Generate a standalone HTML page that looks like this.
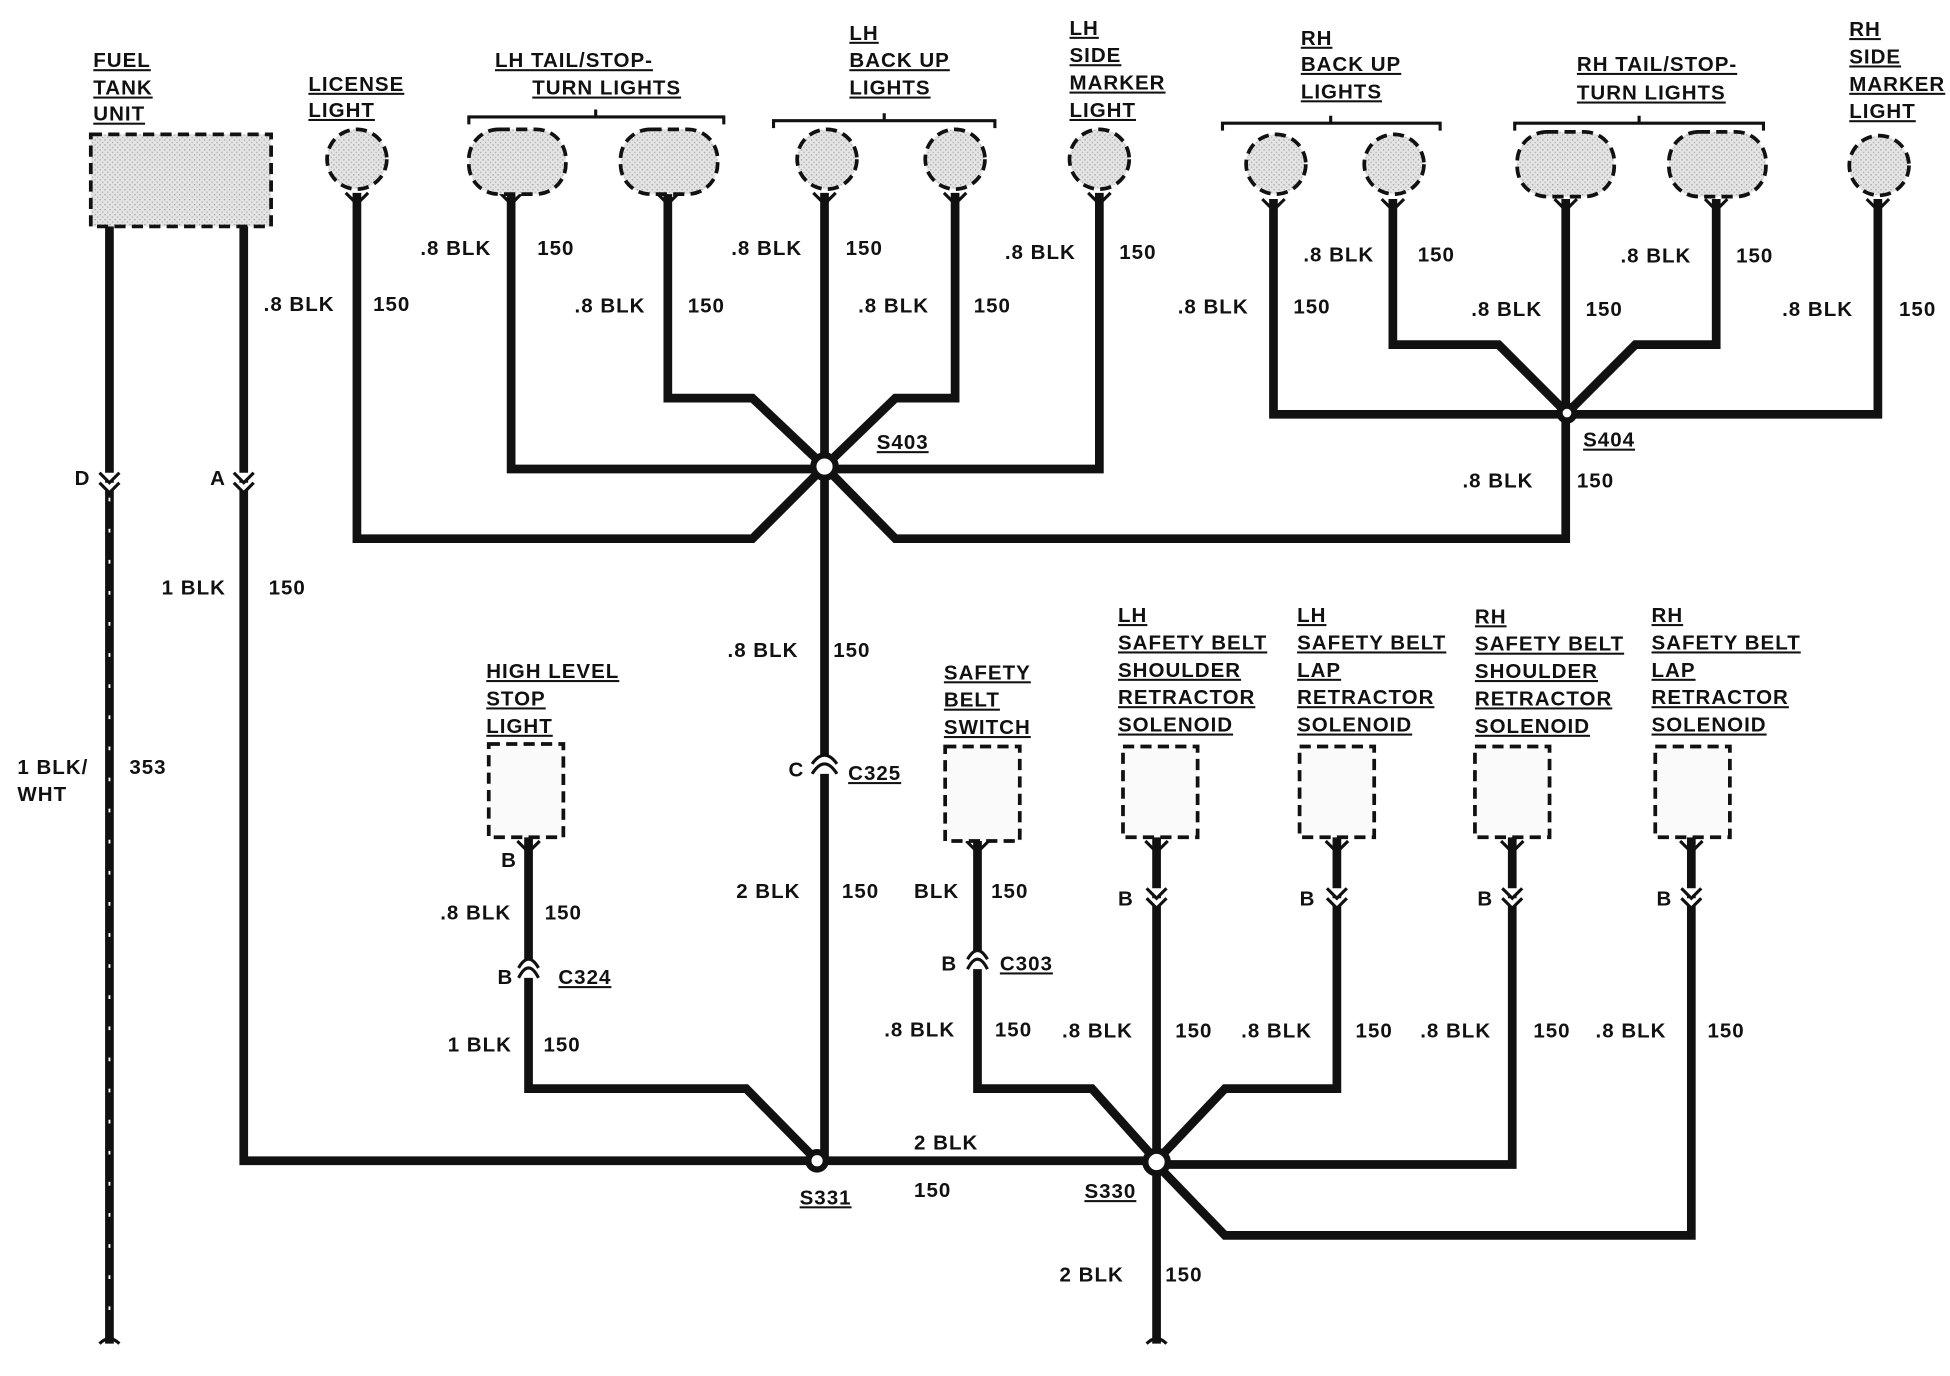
<!DOCTYPE html>
<html><head><meta charset="utf-8"><style>
html,body{margin:0;padding:0;background:#fff;}
svg{display:block;}
text{font-family:"Liberation Sans",Arial,sans-serif;font-weight:bold;font-size:16.5px;fill:#111;letter-spacing:0.8px;}
.u{text-decoration:underline;}
</style></head><body>
<svg width="1950" height="1376" viewBox="0 0 1568 1106" preserveAspectRatio="none" xmlns="http://www.w3.org/2000/svg">
<defs>
<pattern id="st" width="4" height="4" patternUnits="userSpaceOnUse"><rect width="4" height="4" fill="#e4e4e4"/><rect width="1" height="1" fill="#999"/><rect x="2" y="2" width="1" height="1" fill="#aaa"/></pattern>
</defs>
<g fill="none" stroke="#111" stroke-width="7" stroke-linejoin="miter">
<line x1="88" y1="182" x2="88" y2="1080"/>
<polyline points="196,182 196,933 930,933"/>
<polyline points="287,155 287,433 605,433 663,375"/>
<polyline points="411,155 411,377 884,377 884,155"/>
<polyline points="537,155 537,320 605,320 663,375 720,320 768,320 768,155"/>
<polyline points="663,155 663,933"/>
<polyline points="663,375 720,433 1259,433 1259,332"/>
<polyline points="1024,160 1024,333 1510,333 1510,160"/>
<polyline points="1120,160 1120,277 1205,277 1260,332 1315,277 1380,277 1380,160"/>
<line x1="1259" y1="160" x2="1259" y2="332"/>
<polyline points="425,673 425,875 600,875 657,933"/>
<polyline points="786,676 786,875 878,875 930,933 985,875 1075,875 1075,673"/>
<polyline points="930,673 930,1080"/>
<polyline points="1216,673 1216,936 930,936"/>
<polyline points="1360,673 1360,993 985,993 930,936"/>
</g>
<line x1="88" y1="400" x2="88" y2="1075" stroke="#fff" stroke-width="1.5" stroke-dasharray="3,22"/>
<g fill="#fff" stroke="#111" stroke-width="2.5">
<path d="M80,380 L88,388 L96,380 M80,388 L88,396 L96,388"/>
<path d="M188,380 L196,388 L204,380 M188,388 L196,396 L204,388"/>
<path d="M653,622 Q663,606 673,622 M653,614 Q663,600 673,614"/>
<path d="M417,786 Q425,770 433,786 M417,778 Q425,764 433,778"/>
<path d="M778,779 Q786,763 794,779 M778,771 Q786,757 794,771"/>
<path d="M922,714 L930,722 L938,714 M922,722 L930,730 L938,722"/>
<path d="M1067,714 L1075,722 L1083,714 M1067,722 L1075,730 L1083,722"/>
<path d="M1208,714 L1216,722 L1224,714 M1208,722 L1216,730 L1224,722"/>
<path d="M1352,714 L1360,722 L1368,714 M1352,722 L1360,730 L1368,722"/>
<path d="M80,1080 Q88,1072 96,1080 M922,1080 Q930,1072 938,1080" fill="none"/>
<path d="M278,155 L287,164 L296,155 M402,155 L411,164 L420,155 M528,155 L537,164 L546,155 M654,155 L663,164 L672,155 M759,155 L768,164 L777,155 M875,155 L884,164 L893,155 M1015,160 L1024,169 L1033,160 M1111,160 L1120,169 L1129,160 M1250,160 L1259,169 L1268,160 M1371,160 L1380,169 L1389,160 M1501,160 L1510,169 L1519,160 M416,676 L425,685 L434,676 M777,676 L786,685 L795,676 M921,676 L930,685 L939,676 M1066,676 L1075,685 L1084,676 M1207,676 L1216,685 L1225,676 M1351,676 L1360,685 L1369,676" fill="none"/>
</g>
<g fill="#fff" stroke="#111" stroke-width="5">
<circle cx="663" cy="375" r="9"/>
<circle cx="1260" cy="332" r="6"/>
<circle cx="657" cy="933" r="7"/>
<circle cx="930" cy="934" r="9"/>
</g>
<g stroke="#111" stroke-width="3" stroke-dasharray="9,5" fill="url(#st)">
<rect x="73" y="108" width="145" height="74"/>
<circle cx="287" cy="128" r="24"/>
<rect x="377" y="104" width="78" height="52" rx="24"/>
<rect x="499" y="104" width="78" height="52" rx="24"/>
<circle cx="665" cy="128" r="24"/>
<circle cx="768" cy="128" r="24"/>
<circle cx="884" cy="128" r="24"/>
<circle cx="1026" cy="132" r="24"/>
<circle cx="1121" cy="132" r="24"/>
<rect x="1220" y="106" width="78" height="52" rx="24"/>
<rect x="1342" y="106" width="78" height="52" rx="24"/>
<circle cx="1511" cy="133" r="24"/>
</g>
<g stroke="#111" stroke-width="3" stroke-dasharray="9,5" fill="#fafafa">
<rect x="393" y="598" width="60" height="75"/>
<rect x="760" y="600" width="60" height="76"/>
<rect x="903" y="600" width="60" height="73"/>
<rect x="1045" y="600" width="60" height="73"/>
<rect x="1186" y="600" width="60" height="73"/>
<rect x="1331" y="600" width="60" height="73"/>
</g>
<g fill="none" stroke="#111" stroke-width="2.5">
<path d="M377,100 L377,94 L479,94 L479,88 M479,94 L582,94 L582,100"/>
<path d="M622,103 L622,97 L711,97 L711,91 M711,97 L800,97 L800,103"/>
<path d="M983,105 L983,99 L1070,99 L1070,93 M1070,99 L1158,99 L1158,105"/>
<path d="M1218,105 L1218,99 L1318,99 L1318,93 M1318,99 L1418,99 L1418,105"/>
</g>
<g>
<text x="75" y="54" class="u">FUEL</text><text x="75" y="76" class="u">TANK</text><text x="75" y="97" class="u">UNIT</text>
<text x="248" y="73" class="u">LICENSE</text><text x="248" y="94" class="u">LIGHT</text>
<text x="398" y="54" class="u">LH TAIL/STOP-</text><text x="428" y="76" class="u">TURN LIGHTS</text>
<text x="683" y="32" class="u">LH</text><text x="683" y="54" class="u">BACK UP</text><text x="683" y="76" class="u">LIGHTS</text>
<text x="860" y="28" class="u">LH</text><text x="860" y="50" class="u">SIDE</text><text x="860" y="72" class="u">MARKER</text><text x="860" y="94" class="u">LIGHT</text>
<text x="1046" y="36" class="u">RH</text><text x="1046" y="57" class="u">BACK UP</text><text x="1046" y="79" class="u">LIGHTS</text>
<text x="1268" y="57" class="u">RH TAIL/STOP-</text><text x="1268" y="80" class="u">TURN LIGHTS</text>
<text x="1487" y="29" class="u">RH</text><text x="1487" y="51" class="u">SIDE</text><text x="1487" y="73" class="u">MARKER</text><text x="1487" y="95" class="u">LIGHT</text>
<text x="391" y="545" class="u">HIGH LEVEL</text><text x="391" y="567" class="u">STOP</text><text x="391" y="589" class="u">LIGHT</text>
<text x="759" y="546" class="u">SAFETY</text><text x="759" y="568" class="u">BELT</text><text x="759" y="590" class="u">SWITCH</text>
<text x="899" y="500" class="u">LH</text><text x="899" y="522" class="u">SAFETY BELT</text><text x="899" y="544" class="u">SHOULDER</text><text x="899" y="566" class="u">RETRACTOR</text><text x="899" y="588" class="u">SOLENOID</text>
<text x="1043" y="500" class="u">LH</text><text x="1043" y="522" class="u">SAFETY BELT</text><text x="1043" y="544" class="u">LAP</text><text x="1043" y="566" class="u">RETRACTOR</text><text x="1043" y="588" class="u">SOLENOID</text>
<text x="1186" y="501" class="u">RH</text><text x="1186" y="523" class="u">SAFETY BELT</text><text x="1186" y="545" class="u">SHOULDER</text><text x="1186" y="567" class="u">RETRACTOR</text><text x="1186" y="589" class="u">SOLENOID</text>
<text x="1328" y="500" class="u">RH</text><text x="1328" y="522" class="u">SAFETY BELT</text><text x="1328" y="544" class="u">LAP</text><text x="1328" y="566" class="u">RETRACTOR</text><text x="1328" y="588" class="u">SOLENOID</text>
<text x="705" y="361" class="u">S403</text><text x="1273" y="359" class="u">S404</text>
<text x="682" y="627" class="u">C325</text><text x="449" y="791" class="u">C324</text><text x="804" y="780" class="u">C303</text>
<text x="643" y="968" class="u">S331</text><text x="872" y="963" class="u">S330</text>
</g>
<text x="212" y="250">.8 BLK</text><text x="300" y="250">150</text>
<text x="60" y="390">D</text><text x="169" y="390">A</text>
<text x="130" y="478">1 BLK</text><text x="216" y="478">150</text>
<text x="14" y="622">1 BLK/</text><text x="14" y="644">WHT</text><text x="104" y="622">353</text>
<text x="338" y="205">.8 BLK</text><text x="432" y="205">150</text>
<text x="462" y="251">.8 BLK</text><text x="553" y="251">150</text>
<text x="588" y="205">.8 BLK</text><text x="680" y="205">150</text>
<text x="690" y="251">.8 BLK</text><text x="783" y="251">150</text>
<text x="808" y="208">.8 BLK</text><text x="900" y="208">150</text>
<text x="947" y="252">.8 BLK</text><text x="1040" y="252">150</text>
<text x="1048" y="210">.8 BLK</text><text x="1140" y="210">150</text>
<text x="1183" y="254">.8 BLK</text><text x="1275" y="254">150</text>
<text x="1303" y="211">.8 BLK</text><text x="1396" y="211">150</text>
<text x="1433" y="254">.8 BLK</text><text x="1527" y="254">150</text>
<text x="1176" y="392">.8 BLK</text><text x="1268" y="392">150</text>
<text x="585" y="528">.8 BLK</text><text x="670" y="528">150</text>
<text x="634" y="624">C</text>
<text x="592" y="722">2 BLK</text><text x="677" y="722">150</text>
<text x="403" y="697">B</text>
<text x="354" y="739">.8 BLK</text><text x="438" y="739">150</text>
<text x="400" y="791">B</text>
<text x="360" y="845">1 BLK</text><text x="437" y="845">150</text>
<text x="735" y="722">BLK</text><text x="797" y="722">150</text>
<text x="757" y="780">B</text>
<text x="711" y="833">.8 BLK</text><text x="800" y="833">150</text>
<text x="899" y="728">B</text><text x="1045" y="728">B</text><text x="1188" y="728">B</text><text x="1332" y="728">B</text>
<text x="854" y="834">.8 BLK</text><text x="945" y="834">150</text>
<text x="998" y="834">.8 BLK</text><text x="1090" y="834">150</text>
<text x="1142" y="834">.8 BLK</text><text x="1233" y="834">150</text>
<text x="1283" y="834">.8 BLK</text><text x="1373" y="834">150</text>
<text x="735" y="924">2 BLK</text><text x="735" y="962">150</text>
<text x="852" y="1030">2 BLK</text><text x="937" y="1030">150</text>
</svg>
</body></html>
